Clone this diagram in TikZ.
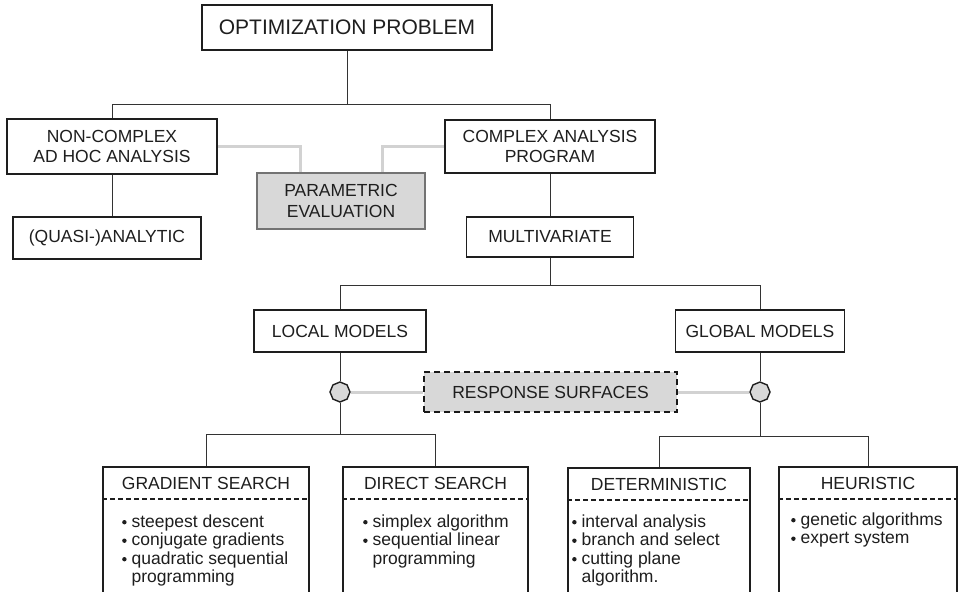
\documentclass[tikz,border=0pt]{standalone}
\usepackage{fontspec}
\setmainfont{Liberation Sans}
\usetikzlibrary{shapes.geometric}

\definecolor{ink}{HTML}{1E1E1E}
\definecolor{shade}{HTML}{D8D8D8}
\definecolor{linkgray}{HTML}{D2D2D2}

% small round bullet for the method lists
\newcommand{\blt}{\raisebox{2.6pt}{\tikz\fill[ink] (0,0) circle (2.2pt);}}

\begin{document}
\begin{tikzpicture}[x=1pt,y=-1pt,
  box/.style={draw=ink, line width=1.8pt, fill=white, inner sep=0pt,
    align=center, text=ink, font=\fontsize{17.5}{20.5}\selectfont},
  bigbox/.style={box, font=\fontsize{21}{24}\selectfont},
  parambox/.style={box, draw=black!55, line width=1.2pt, fill=shade},
  respbox/.style={box, fill=shade, dash pattern=on 6pt off 4pt, line width=2.4pt, draw=black!90},
  methodbox/.style={box, minimum height=133pt},
  octo/.style={regular polygon, regular polygon sides=8, shape border rotate=22.5,
    draw=ink, line width=1.4pt, fill=shade, minimum size=20pt, inner sep=0pt},
  conn/.style={draw=black!80, line width=0.9pt},
  graylink/.style={draw=linkgray, line width=3pt},
  divider/.style={draw=ink, line width=2pt, dash pattern=on 5pt off 3pt},
  heading/.style={text=ink, font=\fontsize{17.5}{20.5}\selectfont, inner sep=0pt},
  items/.style={text=ink, inner sep=0pt, anchor=base west, font=\fontsize{17.5}{18.5}\selectfont}
]
\useasboundingbox (0,0) rectangle (959,592);
\clip (0,0) rectangle (959,592);

% ---- upper levels ----
\node[bigbox, minimum width=290pt, minimum height=45pt] (top) at (347,27.5) {OPTIMIZATION PROBLEM};
\node[box, minimum width=210pt, minimum height=55pt] (noncomplex) at (112,146.5) {NON-COMPLEX\\AD HOC ANALYSIS};
\node[box, minimum width=210pt, minimum height=53pt] (complex) at (550,146.5) {COMPLEX ANALYSIS\\PROGRAM};
\node[parambox, minimum width=168pt, minimum height=56pt] (param) at (341,201) {PARAMETRIC\\EVALUATION};
\node[box, minimum width=188pt, minimum height=42pt] (quasi) at (107,238) {(QUASI-)ANALYTIC};
\node[box, minimum width=167pt, minimum height=40pt] (multi) at (550,237) {MULTIVARIATE};

% ---- model level ----
\node[box, minimum width=172pt, minimum height=42pt] (local) at (340,331) {LOCAL MODELS};
\node[box, minimum width=169pt, minimum height=42pt] (global) at (760,331) {GLOBAL MODELS};
\node[octo] (octL) at (340,392) {};
\node[octo] (octR) at (760,392) {};
\node[respbox, minimum width=253pt, minimum height=40pt] (resp) at (550.5,392) {RESPONSE SURFACES};

% ---- method boxes ----
\node[methodbox, minimum width=206pt] (gs)  at (206,533.5) {};
\node[methodbox, minimum width=185pt] (ds)  at (435.5,533.5) {};
\node[methodbox, minimum width=182pt] (det) at (659,534.5) {};
\node[methodbox, minimum width=178pt] (heu) at (868,533.5) {};

\foreach \b/\t in {gs/GRADIENT SEARCH, ds/DIRECT SEARCH, det/DETERMINISTIC, heu/HEURISTIC}{
  \node[heading] (\b-title) at ([yshift=-17.5pt]\b.north) {\t};
  \draw[divider] ([yshift=-33pt]\b.north west) -- ([yshift=-33pt]\b.north east);
}

\node[items] (gs-list) at (122,527) {\begin{tabular}[t]{@{}l@{\hspace{5pt}}l@{}}
  \blt & steepest descent\\ \blt & conjugate gradients\\ \blt & quadratic sequential\\ & programming\end{tabular}};
\node[items] (ds-list) at (363,527) {\begin{tabular}[t]{@{}l@{\hspace{5pt}}l@{}}
  \blt & simplex algorithm\\ \blt & sequential linear\\ & programming\end{tabular}};
\node[items] (det-list) at (572,527) {\begin{tabular}[t]{@{}l@{\hspace{5pt}}l@{}}
  \blt & interval analysis\\ \blt & branch and select\\ \blt & cutting plane\\ & algorithm.\end{tabular}};
\node[items] (heu-list) at (791,525) {\begin{tabular}[t]{@{}l@{\hspace{5pt}}l@{}}
  \blt & genetic algorithms\\ \blt & expert system\end{tabular}};

% ---- tree connectors ----
\draw[conn] (top.south) -- ++(0,54) coordinate (j1);
\draw[conn] (noncomplex.north) |- (j1) -| (complex.north);
\draw[conn] (noncomplex.south) -- (noncomplex.south |- quasi.north);
\draw[conn] (complex.south) -- (multi.north);
\draw[conn] (multi.south) -- ++(0,28) coordinate (j2);
\draw[conn] (local.north) |- (j2) -| (global.north);
\draw[conn] (local.south) -- (octL.north);
\draw[conn] (octL.south) -- ++(0,31.5) coordinate (j3);
\draw[conn] (gs.north) |- (j3) -| (ds.north);
\draw[conn] (global.south) -- (octR.north);
\draw[conn] (octR.south) -- ++(0,34) coordinate (j4);
\draw[conn] (det.north) |- (j4) -| (heu.north);

% ---- light gray links ----
\draw[graylink] (noncomplex.east) -| ([xshift=-41pt]param.north);
\draw[graylink] (complex.west) -| ([xshift=41pt]param.north);
\draw[graylink] (octL.east) -- (resp.west);
\draw[graylink] (resp.east) -- (octR.west);
\end{tikzpicture}
\end{document}
